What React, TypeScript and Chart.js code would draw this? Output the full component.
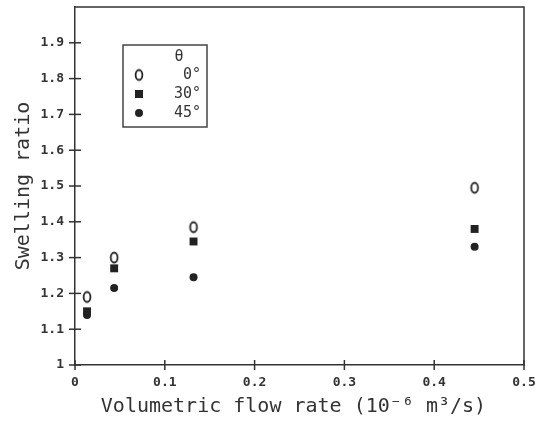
import React, { useEffect, useRef } from "react";
import { Chart, registerables } from "chart.js";

Chart.register(...registerables);

// ---- data ----
const flowRate = [0.0134, 0.0436, 0.132, 0.445];
const ratio0 = [1.19, 1.3, 1.385, 1.495];
const ratio30 = [1.15, 1.27, 1.345, 1.38];
const ratio45 = [1.14, 1.215, 1.245, 1.33];
const seriesLabels = ["0°", "30°", "45°"];
const legendHeader = "θ";
const xTickValues = [0, 0.1, 0.2, 0.3, 0.4, 0.5];
const xTickLabels = ["0", "0.1", "0.2", "0.3", "0.4", "0.5"];
const yTickValues = [1, 1.1, 1.2, 1.3, 1.4, 1.5, 1.6, 1.7, 1.8, 1.9, 2];
const yTickLabels = ["1", "1.1", "1.2", "1.3", "1.4", "1.5", "1.6", "1.7", "1.8", "1.9", ""];
const xTitle = "Volumetric flow rate (10⁻⁶ m³/s) ";
const yTitle = "Swelling ratio";

const INK = "#222";
const MONO = "'DejaVu Sans Mono', 'Liberation Mono', monospace";

function makeOval(): HTMLCanvasElement {
  const c = document.createElement("canvas");
  c.width = 12;
  c.height = 15;
  const ctx = c.getContext("2d")!;
  ctx.strokeStyle = INK;
  ctx.lineWidth = 1.8;
  ctx.beginPath();
  ctx.ellipse(6, 7.5, 3.4, 5, 0, 0, Math.PI * 2);
  ctx.stroke();
  return c;
}

export default function App() {
  const ref = useRef<HTMLCanvasElement | null>(null);

  useEffect(() => {
    if (!ref.current) return;
    const oval = makeOval();

    const frameAndTicks = {
      id: "frameAndTicks",
      afterDraw(chart: any) {
        const { ctx, chartArea, scales } = chart;
        const { left, right, top, bottom } = chartArea;
        ctx.save();
        ctx.strokeStyle = "#333";
        ctx.lineWidth = 1.5;
        ctx.beginPath();
        ctx.moveTo(left, top);
        ctx.lineTo(right, top);
        ctx.lineTo(right, bottom);
        ctx.stroke();
        for (const v of xTickValues) {
          const px = scales.x.getPixelForValue(v);
          ctx.beginPath();
          ctx.moveTo(px, bottom - 5);
          ctx.lineTo(px, bottom + 5);
          ctx.stroke();
        }
        for (const v of yTickValues.slice(0, -1)) {
          const py = scales.y.getPixelForValue(v);
          ctx.beginPath();
          ctx.moveTo(left - 6, py);
          ctx.lineTo(left + 6, py);
          ctx.stroke();
        }
        ctx.restore();
      },
    };

    const legendBox = {
      id: "legendBox",
      afterDraw(chart: any) {
        const { ctx } = chart;
        const bx = 123, by = 45, bw = 84, bh = 82;
        ctx.save();
        ctx.strokeStyle = "#444";
        ctx.lineWidth = 1.5;
        ctx.strokeRect(bx, by, bw, bh);
        ctx.fillStyle = "#333";
        ctx.font = "15px " + MONO;
        ctx.textAlign = "center";
        ctx.textBaseline = "middle";
        ctx.fillText(legendHeader, 179, 57);
        const rows = [75, 94, 113];
        ctx.textAlign = "right";
        rows.forEach((y, i) => {
          ctx.fillStyle = "#333";
          ctx.fillText(seriesLabels[i], 201, y);
          const mx = 139;
          ctx.fillStyle = INK;
          if (i === 0) {
            ctx.drawImage(oval, mx - 6, y - 7.5);
          } else if (i === 1) {
            ctx.fillRect(mx - 4, y - 4, 8, 8);
          } else {
            ctx.beginPath();
            ctx.arc(mx, y, 4, 0, Math.PI * 2);
            ctx.fill();
          }
        });
        ctx.restore();
      },
    };

    const chart = new Chart(ref.current, {
      type: "scatter",
      data: {
        datasets: [
          {
            label: seriesLabels[0],
            data: flowRate.map((x, i) => ({ x, y: ratio0[i] })),
            pointStyle: oval as any,
            pointRadius: 6,
          },
          {
            label: seriesLabels[1],
            data: flowRate.map((x, i) => ({ x, y: ratio30[i] })),
            pointStyle: "rect",
            pointRadius: 5.6,
            backgroundColor: INK,
            borderColor: INK,
            borderWidth: 0,
          },
          {
            label: seriesLabels[2],
            data: flowRate.map((x, i) => ({ x, y: ratio45[i] })),
            pointStyle: "circle",
            pointRadius: 4,
            backgroundColor: INK,
            borderColor: INK,
            borderWidth: 0,
          },
        ],
      },
      options: {
        responsive: false,
        animation: false,
        layout: { padding: { left: 0, right: 16, top: 7, bottom: 0 } },
        plugins: {
          legend: { display: false },
          tooltip: { enabled: false },
        },
        scales: {
          x: {
            type: "linear",
            min: 0,
            max: 0.5,
            afterFit: (s: any) => {
              s.height = 57;
              s.paddingLeft = 0;
              s.paddingRight = 0;
            },
            afterBuildTicks: (s: any) => {
              s.ticks = xTickValues.map((v) => ({ value: v }));
            },
            ticks: {
              color: "#333",
              font: { family: MONO, size: 13, weight: "bold" },
              padding: 10,
              maxRotation: 0,
              callback: (v: any) => {
                const i = xTickValues.findIndex((t) => Math.abs(t - Number(v)) < 1e-9);
                return i >= 0 ? xTickLabels[i] : "";
              },
            },
            grid: { display: false, drawTicks: false, tickLength: 0 },
            border: { display: true, color: "#333", width: 1.5 },
            title: {
              display: true,
              text: xTitle,
              color: "#333",
              font: { family: MONO, size: 20 },
              padding: { top: 0, bottom: 3 },
            },
          },
          y: {
            type: "linear",
            min: 1,
            max: 2,
            afterFit: (s: any) => {
              s.width = 75;
              s.paddingTop = 0;
              s.paddingBottom = 0;
            },
            afterBuildTicks: (s: any) => {
              s.ticks = yTickValues.map((v) => ({ value: v }));
            },
            ticks: {
              color: "#333",
              font: { family: MONO, size: 13, weight: "bold" },
              padding: 11,
              callback: (v: any) => {
                const i = yTickValues.findIndex((t) => Math.abs(t - Number(v)) < 1e-9);
                return i >= 0 ? yTickLabels[i] : "";
              },
            },
            grid: { display: false, drawTicks: false, tickLength: 0 },
            border: { display: true, color: "#333", width: 1.5 },
            title: {
              display: true,
              text: yTitle,
              color: "#333",
              font: { family: MONO, size: 20 },
              padding: { top: 12, bottom: 0 },
            },
          },
        },
      },
      plugins: [frameAndTicks, legendBox],
    });

    return () => chart.destroy();
  }, []);

  return (
    <div style={{ position: "absolute", left: 0, top: 0, width: 540, height: 422, background: "#fff" }}>
      <canvas ref={ref} width={540} height={422} style={{ display: "block" }} />
    </div>
  );
}
